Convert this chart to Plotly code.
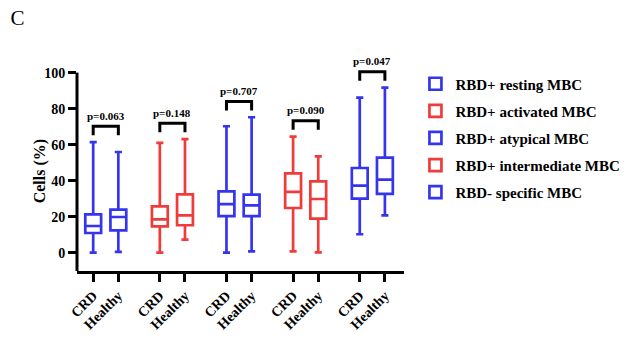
import plotly.graph_objects as go

# ---------------- data ----------------
series_names = ["RBD+ resting MBC", "RBD+ activated MBC", "RBD+ atypical MBC",
                "RBD+ intermediate MBC", "RBD- specific MBC"]
series_colors = ["#3535ee", "#f03b3b", "#3535ee", "#f03b3b", "#3535ee"]
groups = ["CRD", "Healthy"]

# [CRD, Healthy] per series
mins    = [[0.0, 0.4],  [0.0, 7.2],   [0.0, 0.7],   [0.7, 0.2],   [10.2, 20.7]]
q1s     = [[10.9, 12.4], [14.6, 15.2], [20.3, 20.3], [24.8, 18.9], [30.0, 32.6]]
medians = [[14.8, 19.8], [18.5, 20.7], [27.0, 26.3], [33.7, 29.8], [37.2, 40.6]]
q3s     = [[21.3, 23.9], [25.7, 32.4], [34.0, 32.2], [44.0, 39.6], [47.0, 52.8]]
maxs    = [[61.4, 55.9], [61.0, 63.0], [70.2, 75.2], [64.4, 53.5], [86.1, 91.7]]
p_values = ["p=0.063", "p=0.148", "p=0.707", "p=0.090", "p=0.047"]

y_ticks = [0, 20, 40, 60, 80, 100]

# ---------------- layout constants ----------------
GROUP_STEP = 2.65
SERIF = "Liberation Serif, Times New Roman, serif"

def bold(s):
    return "<b>" + s + "</b>"

fig = go.Figure()

tick_vals, tick_text = [], []
for i, name in enumerate(series_names):
    xs = [i * GROUP_STEP, i * GROUP_STEP + 1]
    tick_vals += xs
    tick_text += [bold(g) for g in groups]
    fig.add_trace(go.Box(
        x=xs, q1=q1s[i], median=medians[i], q3=q3s[i],
        lowerfence=mins[i], upperfence=maxs[i],
        name=bold(name), boxpoints=False, legendgroup="g%d" % i,
        line=dict(color=series_colors[i], width=2.7),
        fillcolor="rgba(255,255,255,0)",
        width=0.63, whiskerwidth=0.45,
    ))

# significance brackets
for i in range(len(series_names)):
    xs = [i * GROUP_STEP, i * GROUP_STEP + 1]
    top = max(maxs[i]) + 8.8
    fig.add_trace(go.Scatter(
        x=[xs[0], xs[0], xs[1], xs[1]], y=[top - 5, top, top, top - 5],
        mode="lines", line=dict(color="black", width=3),
        showlegend=False, hoverinfo="skip",
    ))
    fig.add_annotation(x=(xs[0] + xs[1]) / 2, y=top + 5.8, text=bold(p_values[i]),
                       showarrow=False, yanchor="middle", xanchor="center",
                       font=dict(family=SERIF, size=11, color="black"))

y_lo, y_hi = -10.2, 112

# y-axis line only up to 100
fig.add_shape(type="line", xref="paper", yref="y", x0=0, x1=0, y0=y_lo, y1=100,
              line=dict(color="black", width=3))

fig.add_annotation(xref="paper", yref="y", x=-0.1125, y=45.3, text=bold("Cells (%)"),
                   textangle=-90, showarrow=False, xanchor="center", yanchor="middle",
                   font=dict(family=SERIF, size=16, color="black"))

fig.update_layout(
    width=629, height=329,
    margin=dict(l=69, r=231, t=43, b=66),
    plot_bgcolor="white", paper_bgcolor="white",
    boxmode="overlay",
    title=dict(text="C", x=0.004, y=0.972, xanchor="left", yanchor="middle",
               automargin=False,
               font=dict(family=SERIF, size=21, color="black")),
    xaxis=dict(
        range=[-0.644, 12.36], tickmode="array", tickvals=tick_vals, ticktext=tick_text,
        tickangle=-45, ticks="outside", ticklen=8, tickwidth=3, tickcolor="black",
        showline=True, linecolor="black", linewidth=3, showgrid=False, zeroline=False,
        automargin=False,
        tickfont=dict(family=SERIF, size=14, color="black"),
    ),
    yaxis=dict(
        range=[y_lo, y_hi], tickmode="array", tickvals=y_ticks,
        ticktext=[bold(str(v)) for v in y_ticks],
        ticks="outside", ticklen=8, tickwidth=3, tickcolor="black",
        showline=False, showgrid=False, zeroline=False, automargin=False,
        tickfont=dict(family=SERIF, size=14, color="black"),
    ),
    legend=dict(x=1.035, y=0.925, xanchor="left", yanchor="top",
                traceorder="grouped", tracegroupgap=4.6,
                font=dict(family=SERIF, size=15, color="black"),
                bgcolor="rgba(0,0,0,0)"),
    showlegend=True,
)

fig.write_html("out.html")
